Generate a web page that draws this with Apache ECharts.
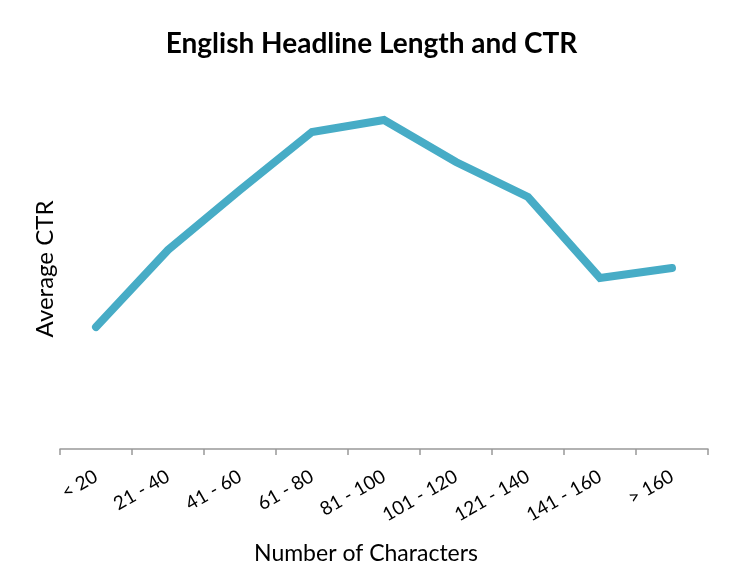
<!DOCTYPE html>
<html><head><meta charset="utf-8">
<script src="https://cdn.jsdelivr.net/npm/echarts@6/dist/echarts.min.js"></script>
<style>html,body{margin:0;padding:0;background:#fff}#c{width:743px;height:574px}</style>
</head><body><div id="c"></div>
<script>
var categories = ['< 20','21 - 40','41 - 60','61 - 80','81 - 100','101 - 120','121 - 140','141 - 160','> 160'];
var ctrValues = [1.22, 1.99, 2.59, 3.17, 3.29, 2.87, 2.52, 1.71, 1.81];
var chart = echarts.init(document.getElementById('c'));
chart.setOption({
  animation: false,
  title: {
    text: 'English Headline Length and CTR',
    left: 'center', top: 25,
    textStyle: {fontFamily: 'Lato', fontWeight: 'bold', fontSize: 28, color: '#000'}
  },
  grid: {left: 60, right: 35, top: 89, bottom: 125},
  xAxis: {
    type: 'category', data: categories, boundaryGap: true,
    name: 'Number of Characters', nameLocation: 'middle', nameGap: 93,
    nameTextStyle: {fontFamily: 'Lato', fontSize: 23, color: '#000', padding: [0, 36, 0, 0]},
    axisLine: {lineStyle: {color: '#999', width: 1.5}},
    axisTick: {show: true, length: 6, lineStyle: {color: '#999', width: 1.5}},
    axisLabel: {rotate: 30, margin: 26, fontFamily: 'Lato', fontSize: 19, color: '#000'}
  },
  yAxis: {
    type: 'value', min: 0, max: 3.6,
    name: 'Average CTR', nameLocation: 'middle', nameGap: 3,
    nameTextStyle: {fontFamily: 'Lato', fontSize: 24, color: '#000'},
    axisLine: {show: false}, axisTick: {show: false}, axisLabel: {show: false},
    splitLine: {show: false}
  },
  series: [{
    type: 'line', data: ctrValues, symbol: 'none',
    lineStyle: {color: '#47acc6', width: 8, cap: 'round', join: 'miter'}
  }]
});
</script></body></html>
